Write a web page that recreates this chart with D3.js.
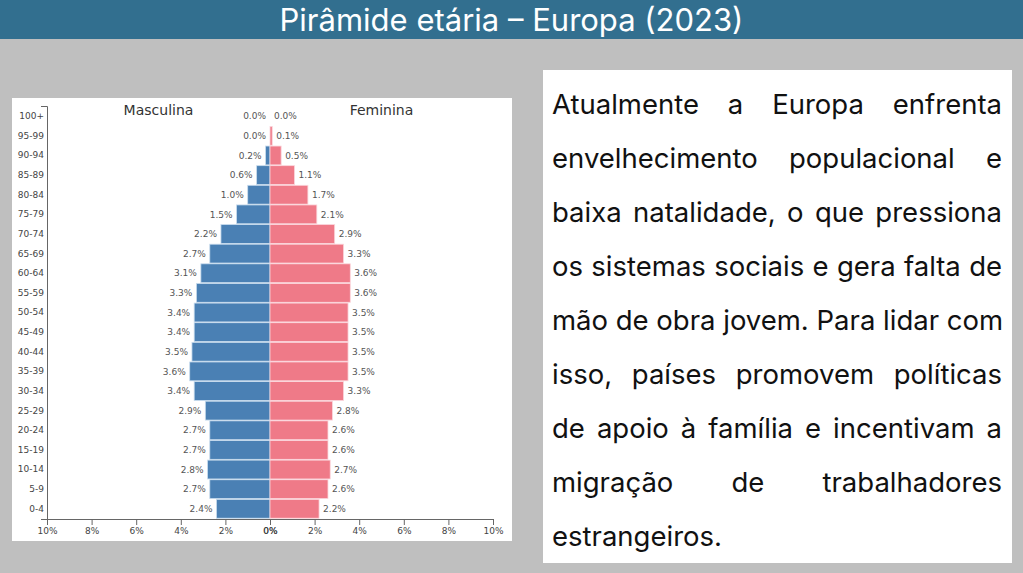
<!DOCTYPE html>
<html>
<head>
<meta charset="utf-8">
<script src="https://cdn.jsdelivr.net/npm/d3@7"></script>
<style>
  body { margin: 0; width: 1023px; height: 573px; background: #bfbfbf; position: relative; overflow: hidden; font-family: Inter, Roboto, "Noto Sans", sans-serif; }
  #header { position: absolute; left: 0; top: 0; width: 1023px; height: 39px; background: #326f8f; color: #fff; font-size: 31px; line-height: 40px; text-align: center; }
  #chart { position: absolute; left: 12px; top: 98px; }
  #panel { position: absolute; left: 543px; top: 70px; width: 469px; height: 493px; background: #fff; box-sizing: border-box; padding: 7px 10px 0 9px; font-size: 27.5px; line-height: 54px; color: #111; }
  #panel .l { display: block; text-align: justify; text-align-last: justify; white-space: nowrap; }
  #panel .l.last { text-align-last: left; }
</style>
</head>
<body>
<div id="header">Pirâmide etária – Europa (2023)</div>
<div id="chart"></div>
<div id="panel"></div>
<script>
// age groups, bottom to top
const ages = ["0-4", "5-9", "10-14", "15-19", "20-24", "25-29", "30-34", "35-39", "40-44", "45-49",
  "50-54", "55-59", "60-64", "65-69", "70-74", "75-79", "80-84", "85-89", "90-94", "95-99", "100+"];
const male = [2.4, 2.7, 2.8, 2.7, 2.7, 2.9, 3.4, 3.6, 3.5, 3.4, 3.4, 3.3, 3.1, 2.7, 2.2, 1.5, 1.0, 0.6, 0.2, 0.0, 0.0];
const female = [2.2, 2.6, 2.7, 2.6, 2.6, 2.8, 3.3, 3.5, 3.5, 3.5, 3.5, 3.6, 3.6, 3.3, 2.9, 2.1, 1.7, 1.1, 0.5, 0.1, 0.0];
const xTicks = [0, 2, 4, 6, 8, 10];

const textLines = [
  "Atualmente a Europa enfrenta",
  "envelhecimento populacional e",
  "baixa natalidade, o que pressiona",
  "os sistemas sociais e gera falta de",
  "mão de obra jovem. Para lidar com",
  "isso, países promovem políticas",
  "de apoio à família e incentivam a",
  "migração de trabalhadores",
  "estrangeiros."
];

// text panel
d3.select("#panel").selectAll("span")
  .data(textLines)
  .enter()
  .append("span")
  .attr("class", (d, i) => i === textLines.length - 1 ? "l last" : "l")
  .text(d => d);

// chart
const width = 500, height = 443;
const margin = { top: 8, left: 35, right: 19, bottom: 22 };
const center = (margin.left + width - margin.right) / 2;

const svg = d3.select("#chart")
  .append("svg")
  .attr("width", width)
  .attr("height", height)
  .style("background", "#fff")
  .style("font-family", "'DejaVu Sans', sans-serif");

const xLeft = d3.scaleLinear().domain([0, 10]).range([center, margin.left]);
const xRight = d3.scaleLinear().domain([0, 10]).range([center, width - margin.right]);

const y = d3.scaleBand()
  .domain(ages)
  .range([height - margin.bottom, margin.top])
  .padding(0.04);

const rows = ages.map((a, i) => ({ age: a, m: male[i], f: female[i] }));

const blue = "#4a80b4", pink = "#ef7a88";

// male bars
svg.selectAll(".bar-m")
  .data(rows)
  .enter()
  .append("rect")
  .attr("class", "bar-m")
  .attr("x", d => xLeft(d.m))
  .attr("y", d => y(d.age))
  .attr("width", d => center - xLeft(d.m))
  .attr("height", y.bandwidth())
  .attr("fill", blue)
  .attr("stroke", "#c9dcee")
  .attr("stroke-width", 0.8);

// female bars
svg.selectAll(".bar-f")
  .data(rows)
  .enter()
  .append("rect")
  .attr("class", "bar-f")
  .attr("x", center)
  .attr("y", d => y(d.age))
  .attr("width", d => xRight(d.f) - center)
  .attr("height", y.bandwidth())
  .attr("fill", pink)
  .attr("stroke", "#fbd6dc")
  .attr("stroke-width", 0.8);

// value labels
svg.selectAll(".lab-m")
  .data(rows)
  .enter()
  .append("text")
  .attr("x", d => xLeft(d.m) - 4)
  .attr("y", d => y(d.age) + y.bandwidth() / 2)
  .attr("dy", "0.35em")
  .attr("text-anchor", "end")
  .attr("font-size", 9)
  .attr("fill", "#555")
  .text(d => d.m.toFixed(1) + "%");

svg.selectAll(".lab-f")
  .data(rows)
  .enter()
  .append("text")
  .attr("x", d => xRight(d.f) + 4)
  .attr("y", d => y(d.age) + y.bandwidth() / 2)
  .attr("dy", "0.35em")
  .attr("text-anchor", "start")
  .attr("font-size", 9)
  .attr("fill", "#555")
  .text(d => d.f.toFixed(1) + "%");

// y axis
const yAxis = svg.append("g")
  .attr("transform", "translate(" + margin.left + ",0)")
  .call(d3.axisLeft(y).tickSizeInner(0).tickSizeOuter(6).tickPadding(3));

// x axes
const xAxisL = svg.append("g")
  .attr("transform", "translate(0," + (height - margin.bottom) + ")")
  .call(d3.axisBottom(xLeft).tickValues(xTicks).tickFormat(d => d + "%"));
const xAxisR = svg.append("g")
  .attr("transform", "translate(0," + (height - margin.bottom) + ")")
  .call(d3.axisBottom(xRight).tickValues(xTicks).tickFormat(d => d + "%"));

[yAxis, xAxisL, xAxisR].forEach(g => {
  g.attr("font-family", "'DejaVu Sans', sans-serif").attr("font-size", 9);
  g.selectAll("path, line").attr("stroke", "#666");
  g.selectAll("text").attr("fill", "#444");
});

// side titles
svg.append("text")
  .attr("x", xLeft(5))
  .attr("y", 17)
  .attr("text-anchor", "middle")
  .attr("font-size", 14)
  .attr("fill", "#333")
  .text("Masculina");

svg.append("text")
  .attr("x", xRight(5))
  .attr("y", 17)
  .attr("text-anchor", "middle")
  .attr("font-size", 14)
  .attr("fill", "#333")
  .text("Feminina");
</script>
</body>
</html>
